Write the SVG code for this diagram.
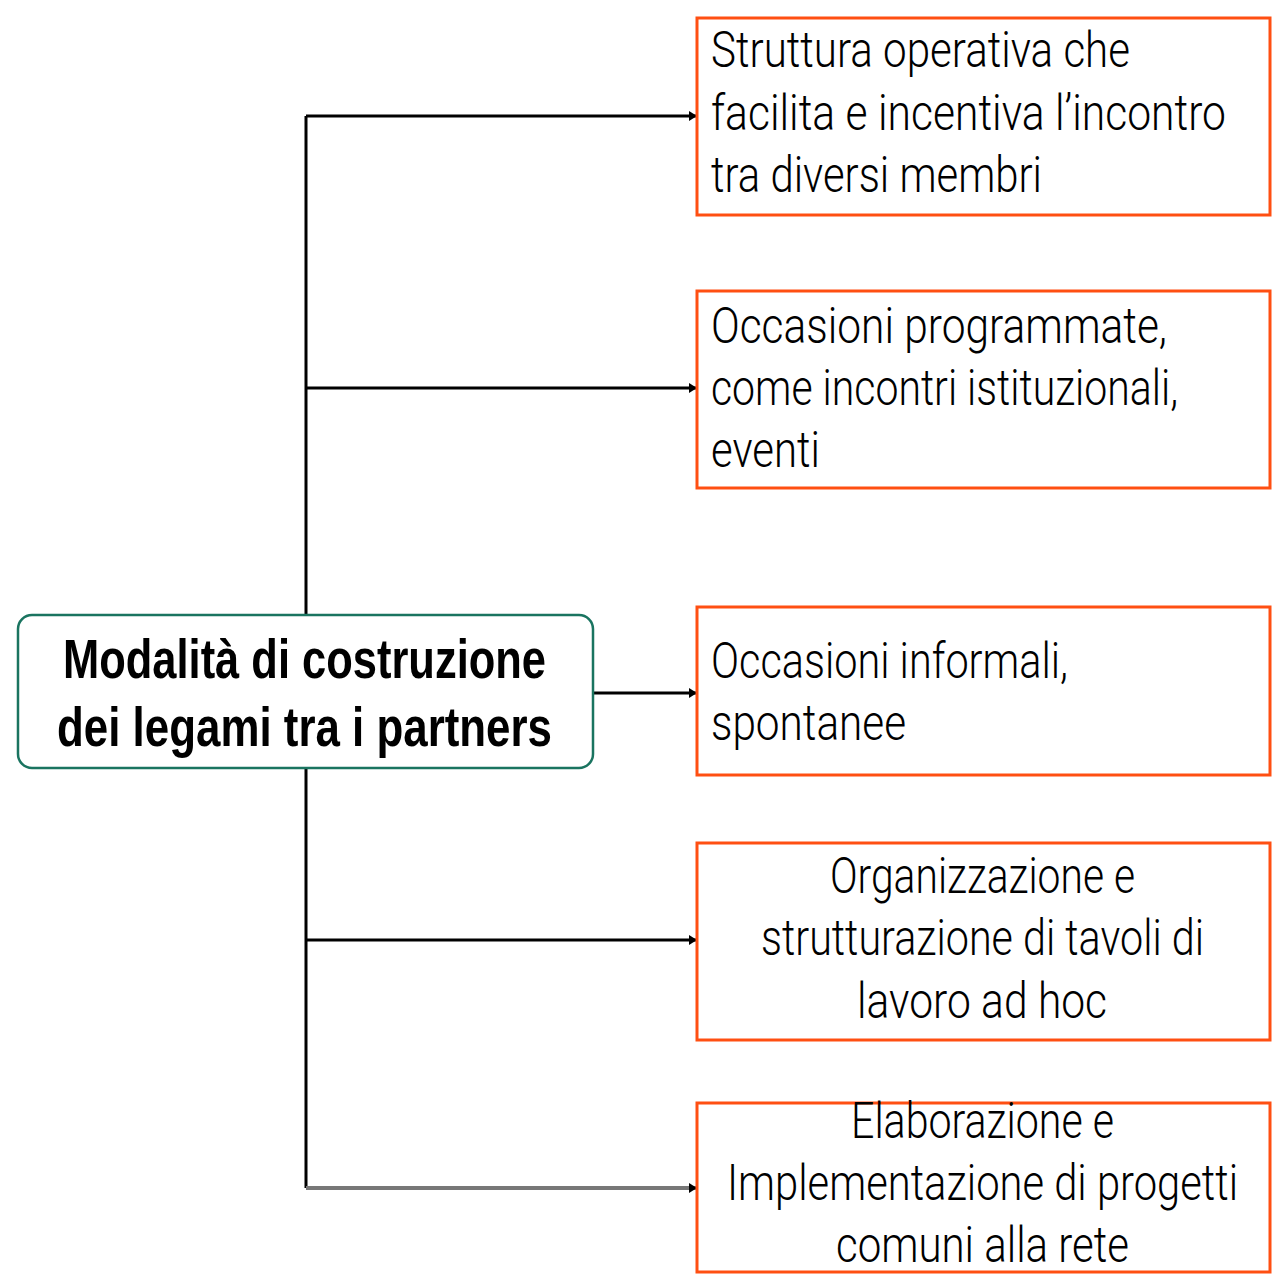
<svg xmlns="http://www.w3.org/2000/svg" width="1281" height="1281" viewBox="0 0 1281 1281">
<defs>
<style>
.box{fill:#fff;stroke:#ff4f12;stroke-width:3}
.t{font-family:Roboto,"Liberation Sans",sans-serif;font-weight:300;font-size:50px;fill:#000}
.c{text-anchor:middle}
.h{font-family:"Liberation Sans",Arial,sans-serif;font-weight:bold;font-size:56px;fill:#000}
.ln{fill:none;stroke:#000;stroke-width:3}
</style>
<marker id="ar" markerWidth="8" markerHeight="10" refX="8" refY="5" orient="auto" markerUnits="userSpaceOnUse">
<path d="M0,0 L8,5 L0,10 Z" fill="#000"/>
</marker>
</defs>
<rect width="1281" height="1281" fill="#fff"/>
<g id="connectors">
<path class="ln" d="M306,116 V1188"/>
<path class="ln" d="M306,116 H697" marker-end="url(#ar)"/>
<path class="ln" d="M306,388 H697" marker-end="url(#ar)"/>
<path class="ln" d="M593,693 H697" marker-end="url(#ar)"/>
<path class="ln" d="M306,940 H697" marker-end="url(#ar)"/>
<path d="M306,1188 H697" fill="none" stroke="#777" stroke-width="4" marker-end="url(#ar)"/>
</g>
<g id="center">
<rect x="18" y="615" width="575" height="153" rx="14" fill="#fff" stroke="#1a7460" stroke-width="2.5"/>
<text class="h" x="63" y="678" textLength="483" lengthAdjust="spacingAndGlyphs">Modalità di costruzione</text>
<text class="h" x="57" y="746" textLength="495" lengthAdjust="spacingAndGlyphs">dei legami tra i partners</text>
</g>
<g id="n1">
<rect class="box" x="697" y="18" width="573" height="197"/>
<text class="t" x="711" y="67" textLength="419" lengthAdjust="spacingAndGlyphs">Struttura operativa che</text>
<text class="t" x="711" y="130" textLength="515" lengthAdjust="spacingAndGlyphs">facilita  e incentiva l’incontro</text>
<text class="t" x="711" y="192" textLength="331" lengthAdjust="spacingAndGlyphs">tra diversi membri</text>
</g>
<g id="n2">
<rect class="box" x="697" y="291" width="573" height="197"/>
<text class="t" x="711" y="343" textLength="456" lengthAdjust="spacingAndGlyphs">Occasioni programmate,</text>
<text class="t" x="711" y="405" textLength="467" lengthAdjust="spacingAndGlyphs">come incontri istituzionali,</text>
<text class="t" x="711" y="467" textLength="109" lengthAdjust="spacingAndGlyphs">eventi</text>
</g>
<g id="n3">
<rect class="box" x="697" y="607" width="573" height="168"/>
<text class="t" x="711" y="678" textLength="357" lengthAdjust="spacingAndGlyphs">Occasioni informali,</text>
<text class="t" x="711" y="740" textLength="195" lengthAdjust="spacingAndGlyphs">spontanee</text>
</g>
<g id="n4">
<rect class="box" x="697" y="843" width="573" height="197"/>
<text class="t" x="830" y="893" textLength="305" lengthAdjust="spacingAndGlyphs">Organizzazione e</text>
<text class="t" x="761" y="955" textLength="443" lengthAdjust="spacingAndGlyphs">strutturazione di tavoli di</text>
<text class="t" x="857" y="1018" textLength="250" lengthAdjust="spacingAndGlyphs">lavoro ad hoc</text>
</g>
<g id="n5">
<rect class="box" x="697" y="1103" width="573" height="169"/>
<text class="t" x="851" y="1138" textLength="263" lengthAdjust="spacingAndGlyphs">Elaborazione e</text>
<text class="t" x="727" y="1200" textLength="511" lengthAdjust="spacingAndGlyphs">Implementazione di progetti</text>
<text class="t" x="836" y="1262" textLength="293" lengthAdjust="spacingAndGlyphs">comuni alla rete</text>
</g>
</svg>
